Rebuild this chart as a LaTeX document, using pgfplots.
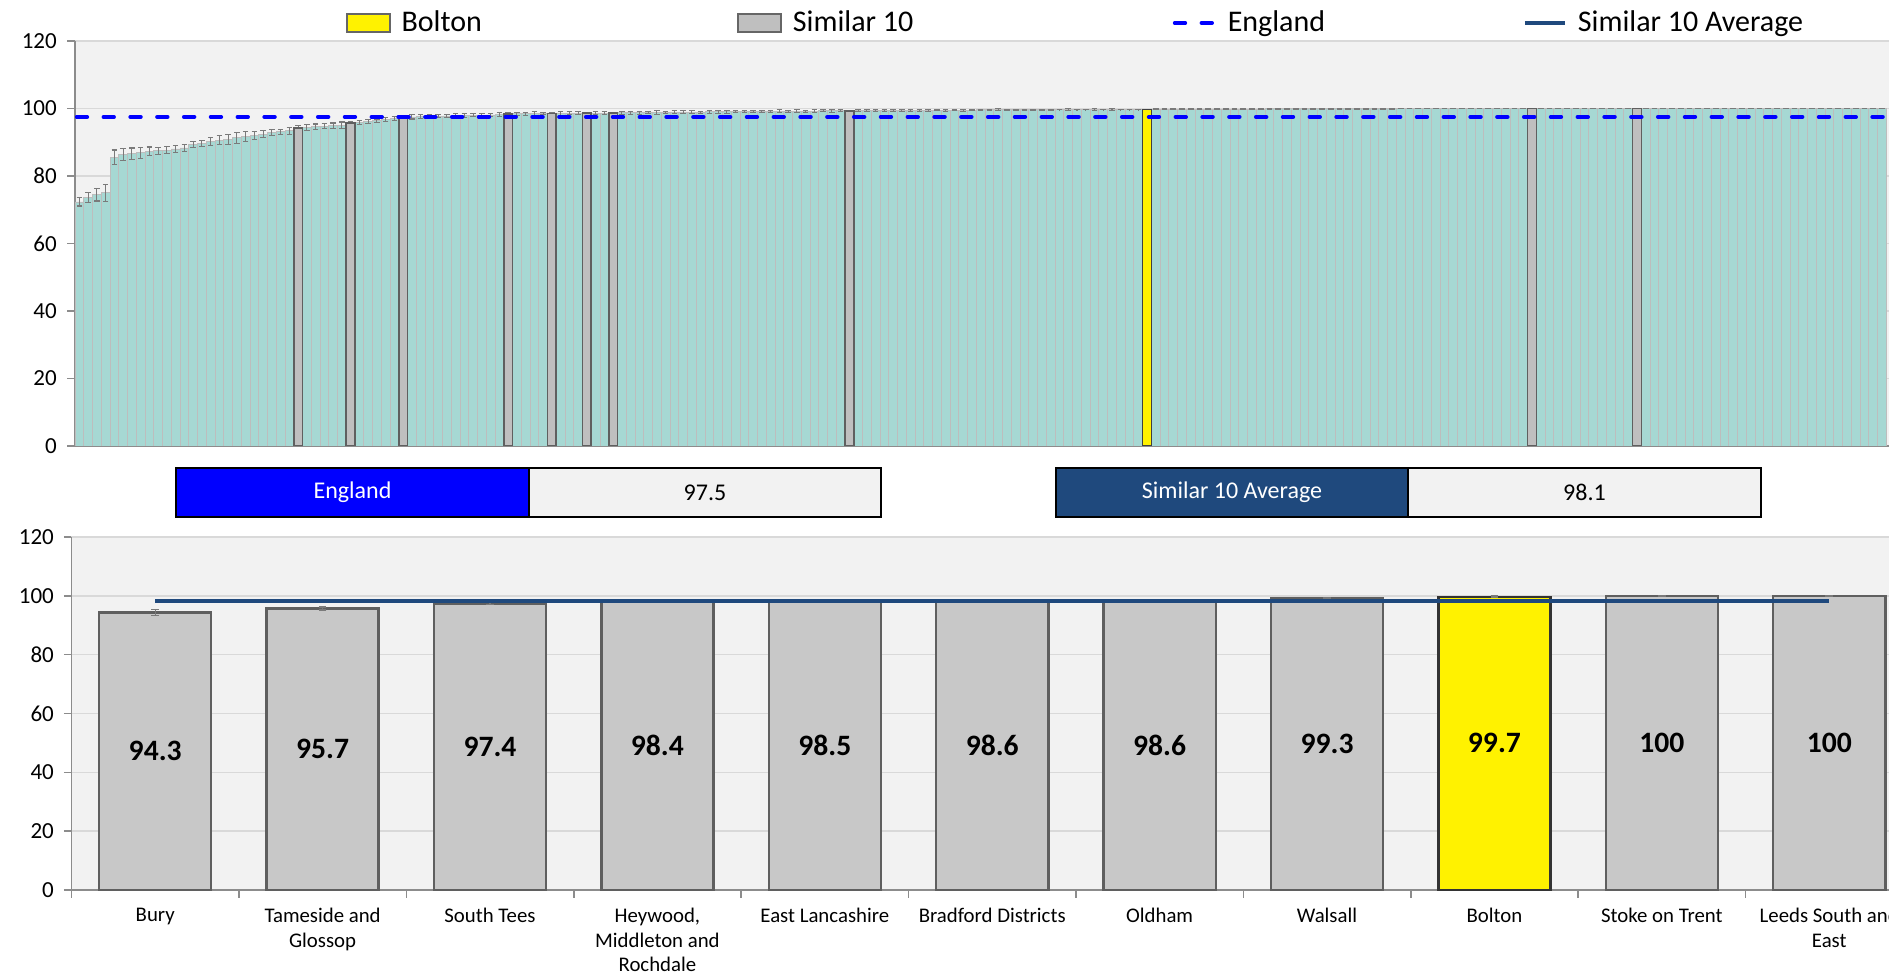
\documentclass[border=0pt]{standalone}
\usepackage{pgfplots}
\pgfplotsset{compat=1.18}
\usepackage{pgfplotstable}
\usepackage{fontspec}
\setmainfont{Carlito}

\definecolor{tealc}{HTML}{A6D8D3}
\definecolor{edgec}{HTML}{BDBDBD}
\definecolor{grayfill}{HTML}{BFBFBF}
\definecolor{graydraw}{HTML}{5F5F5F}
\definecolor{bgrayfill}{HTML}{C8C8C8}
\definecolor{ydraw}{HTML}{404040}
\definecolor{bgc}{HTML}{F2F2F2}
\definecolor{gridc}{HTML}{D9D9D9}
\definecolor{axisgray}{HTML}{8C8C8C}
\definecolor{errc}{HTML}{7A7A7A}
\definecolor{engblue}{HTML}{0000FF}
\definecolor{navy}{HTML}{1F497D}

\pgfplotsset{
  boxleg/.style={legend image code/.code={\draw[##1] (0pt,-4.4pt) rectangle (21.5pt,4.4pt);}},
  lineleg/.style={legend image code/.code={\draw[##1] (1pt,0pt) -- (21pt,0pt);}},
}

\pgfplotstableread{
x y e
0 72.3 1.2
1 73.6 1.5
2 74.4 1.8
3 75.0 2.5
4 85.6 2.1
5 86.3 1.8
6 86.6 1.7
7 86.9 1.6
8 87.3 1.3
9 87.5 1.0
10 87.7 1.1
11 88.0 1.0
12 88.3 1.1
13 89.3 0.8
14 89.6 0.8
15 90.2 1.1
16 90.6 1.3
17 90.9 1.5
18 91.3 1.6
19 91.6 1.5
20 92.0 1.3
21 92.4 1.1
22 92.9 1.0
23 93.1 0.8
24 93.4 1.0
25 94.3 0.7
26 94.4 0.9
27 94.6 0.8
28 94.8 0.7
29 94.9 0.8
30 95.0 1.0
31 95.7 0.4
32 95.8 0.6
33 96.1 0.6
34 96.4 0.5
35 96.7 0.5
36 97.0 0.5
37 97.4 0.3
38 97.5 0.6
39 97.6 0.5
40 97.6 0.6
41 97.7 0.5
42 97.8 0.5
43 97.8 0.6
44 97.9 0.5
45 98.0 0.5
46 98.0 0.6
47 98.1 0.5
48 98.2 0.5
49 98.4 0.3
50 98.4 0.5
51 98.4 0.4
52 98.5 0.5
53 98.5 0.4
54 98.5 0.3
55 98.5 0.5
56 98.6 0.4
57 98.6 0.5
58 98.6 0.3
59 98.6 0.4
60 98.6 0.5
61 98.6 0.3
62 98.7 0.4
63 98.7 0.5
64 98.7 0.4
65 98.8 0.4
66 98.8 0.5
67 98.8 0.4
68 98.9 0.4
69 98.9 0.5
70 98.9 0.4
71 98.9 0.3
72 99.0 0.4
73 99.0 0.5
74 99.0 0.4
75 99.0 0.3
76 99.1 0.4
77 99.1 0.4
78 99.1 0.3
79 99.1 0.4
80 99.2 0.4
81 99.2 0.3
82 99.2 0.4
83 99.2 0.3
84 99.2 0.4
85 99.3 0.3
86 99.3 0.4
87 99.3 0.3
88 99.3 0.2
89 99.3 0.3
90 99.3 0.3
91 99.4 0.2
92 99.4 0.3
93 99.4 0.3
94 99.4 0.2
95 99.4 0.3
96 99.4 0.2
97 99.5 0.3
98 99.5 0.2
99 99.5 0.3
100 99.5 0.2
101 99.5 0.3
102 99.5 0.2
103 99.6 0.2
104 99.6 0.2
105 99.6 0.3
106 99.6 0.2
107 99.6 0.2
108 99.6 0.2
109 99.6 0.1
110 99.6 0.1
111 99.6 0.2
112 99.7 0.1
113 99.7 0.2
114 99.7 0.1
115 99.7 0.1
116 99.7 0.2
117 99.7 0.1
118 99.7 0.2
119 99.7 0.1
120 99.7 0.1
121 99.7 0.1
122 99.7 0.1
123 99.8 0.1
124 99.8 0.1
125 99.8 0.1
126 99.8 0.1
127 99.8 0.1
128 99.8 0.1
129 99.8 0.1
130 99.8 0.1
131 99.8 0.1
132 99.8 0.1
133 99.8 0.1
134 99.8 0.1
135 99.8 0.1
136 99.9 0.1
137 99.9 0.1
138 99.9 0.1
139 99.9 0.1
140 99.9 0.1
141 99.9 0.1
142 99.9 0.1
143 99.9 0.1
144 99.9 0.1
145 99.9 0.1
146 99.9 0.1
147 99.9 0.1
148 99.9 0.1
149 99.9 0.1
150 99.9 0.1
151 100 0.1
152 100 0.1
153 100 0.1
154 100 0.1
155 100 0.1
156 100 0.1
157 100 0.1
158 100 0.1
159 100 0.1
160 100 0.1
161 100 0.1
162 100 0.1
163 100 0.1
164 100 0.1
165 100 0.1
166 100 0.1
167 100 0.1
168 100 0.1
169 100 0.1
170 100 0.1
171 100 0.1
172 100 0.1
173 100 0.1
174 100 0.1
175 100 0.1
176 100 0.1
177 100 0.1
178 100 0.1
179 100 0.1
180 100 0.1
181 100 0.1
182 100 0.1
183 100 0.1
184 100 0.1
185 100 0.1
186 100 0.1
187 100 0.1
188 100 0.1
189 100 0.1
190 100 0.1
191 100 0.1
192 100 0.1
193 100 0.1
194 100 0.1
195 100 0.1
196 100 0.1
197 100 0.1
198 100 0.1
199 100 0.1
200 100 0.1
201 100 0.1
202 100 0.1
203 100 0.1
204 100 0.1
205 100 0.1
206 100 0.1
}\alldata

\pgfplotstableread{
x y
25 94.3
31 95.7
37 97.4
49 98.4
54 98.5
58 98.6
61 98.6
88 99.3
166 100
178 100
}\simdata

\pgfplotstableread{
x v e
0 94.3 1.0
1 95.7 0.5
2 97.4 0.3
3 98.4 0.2
4 98.5 0.2
5 98.6 0.2
6 98.6 0.2
7 99.3 0.2
8 99.7 0.2
9 100 0.1
10 100 0.1
}\bottomdata

\begin{document}
\begin{tikzpicture}
\useasboundingbox (0,0) rectangle (944.5pt,-486pt);

% ---------- top panel ----------
\begin{axis}[
  at={(37.5pt,-223pt)}, anchor=south west,
  scale only axis, width=907pt, height=202.5pt,
  xmin=-0.5, xmax=206.8, ymin=0, ymax=120,
  ytick={0,20,...,120}, xtick=\empty,
  axis x line*=bottom, axis y line*=left,
  x axis line style={-, draw=axisgray, line width=0.8pt},
  y axis line style={-, draw=axisgray, line width=0.8pt},
  axis background/.style={fill=bgc},
  ymajorgrids, grid style={gridc, line width=0.8pt},
  tick align=outside, major tick length=3.8pt,
  tick style={axisgray, line width=0.8pt},
  yticklabel style={font=\fontsize{11.5}{13}\selectfont, xshift=-1.8pt},
  /pgf/number format/assume math mode=true,
  legend columns=4,
  legend style={at={(0.1494,1.0444)}, anchor=west, draw=none, fill=none,
    inner sep=0pt, outer sep=0pt, font=\fontsize{15}{18}\selectfont,
    /tikz/every even column/.append style={column sep=96.9pt},
    /tikz/every odd column/.append style={column sep=3.5pt}},
]
\addplot[ybar, bar width=1, bar shift=0pt, fill=tealc, draw=edgec, line width=0.4pt, forget plot,
  error bars/.cd, y dir=both, y explicit,
  error bar style={errc, line width=0.55pt},
  error mark options={rotate=90, errc, mark size=1.4pt, line width=0.55pt}]
  table[x=x, y=y, y error=e] {\alldata};
\addplot[ybar, bar width=1, bar shift=0pt, fill=grayfill, draw=graydraw, line width=0.8pt, forget plot]
  table[x=x, y=y] {\simdata};
\addplot[ybar, bar width=1, bar shift=0pt, fill=yellow, draw=ydraw, line width=0.8pt, forget plot]
  coordinates {(122,99.7)};
\addplot[engblue, line width=2pt, line cap=round, dash pattern=on 5.2pt off 8.2pt, forget plot]
  coordinates {(-0.3,97.5) (206.8,97.5)};

\addlegendimage{boxleg, fill=yellow, draw=black!60, line width=0.8pt}
\addlegendentry{Bolton\rule{28.8pt}{0pt}}
\addlegendimage{boxleg, fill=grayfill, draw=black!60, line width=0.8pt}
\addlegendentry{Similar 10\rule{30.8pt}{0pt}}
\addlegendimage{lineleg, engblue, line width=2pt, line cap=round, dash pattern=on 5.2pt off 8.2pt}
\addlegendentry{England}
\addlegendimage{lineleg, navy, line width=2pt}
\addlegendentry{Similar 10 Average}
\end{axis}

% ---------- summary boxes ----------
\draw[fill=engblue, line width=1.3pt] (88pt,-234pt) rectangle (264.5pt,-258.5pt);
\draw[fill=bgc, line width=1.3pt] (264.5pt,-234pt) rectangle (440.5pt,-258.5pt);
\node[white, font=\fontsize{12}{14}\selectfont] at (176.25pt,-246.25pt) {England};
\node[font=\fontsize{12}{14}\selectfont] at (352.5pt,-246.25pt) {97.5};
\draw[fill=navy, line width=1.3pt] (528pt,-234pt) rectangle (704pt,-258.5pt);
\draw[fill=bgc, line width=1.3pt] (704pt,-234pt) rectangle (880.5pt,-258.5pt);
\node[white, font=\fontsize{12}{14}\selectfont] at (616pt,-246.25pt) {Similar 10 Average};
\node[font=\fontsize{12}{14}\selectfont] at (792.25pt,-246.25pt) {98.1};

% ---------- bottom panel ----------
\begin{axis}[
  at={(35.75pt,-445pt)}, anchor=south west,
  scale only axis, width=908.75pt, height=176.5pt,
  xmin=-0.5, xmax=10.357, ymin=0, ymax=120,
  ytick={0,20,...,120},
  xtick={-0.5,0.5,...,9.5}, xticklabels={},
  extra x ticks={0,1,2,3,4,5,6,7,8,9,10},
  extra x tick labels={Bury, Tameside and\\Glossop, South Tees, {Heywood,\\Middleton and\\Rochdale}, East Lancashire, Bradford Districts, Oldham, Walsall, Bolton, Stoke on Trent, Leeds South and\\East},
  extra x tick style={major tick length=0pt},
  xticklabel style={font=\fontsize{10.4}{12.3}\selectfont, align=center, anchor=north, yshift=-5.6pt},
  axis x line*=bottom, axis y line*=left,
  x axis line style={-, draw=axisgray, line width=0.8pt},
  y axis line style={-, draw=axisgray, line width=0.8pt},
  axis background/.style={fill=bgc},
  ymajorgrids, grid style={gridc, line width=0.8pt},
  tick align=outside, major tick length=3.8pt,
  tick style={axisgray, line width=0.8pt},
  yticklabel style={font=\fontsize{11.5}{13}\selectfont, xshift=-1.5pt},
  /pgf/number format/assume math mode=true,
]
\addplot[ybar, bar width=0.67, bar shift=0pt, fill=bgrayfill, draw=graydraw, line width=1.2pt,
  error bars/.cd, y dir=both, y explicit,
  error bar style={errc, line width=0.7pt},
  error mark options={rotate=90, errc, mark size=1.9pt, line width=0.7pt}]
  table[x=x, y=v, y error=e] {\bottomdata};
\addplot[ybar, bar width=0.67, bar shift=0pt, fill=yellow, draw=black!80, line width=1.2pt,
  error bars/.cd, y dir=both, y explicit,
  error bar style={errc, line width=0.7pt},
  error mark options={rotate=90, errc, mark size=1.9pt, line width=0.7pt}]
  coordinates {(8,99.7) +- (0,0.2)};
\addplot[navy, line width=2pt] coordinates {(0,98.1) (10,98.1)};
\addplot[draw=none, mark=none, nodes near coords, point meta=explicit symbolic,
  every node near coord/.append style={font=\bfseries\fontsize{14.8}{16}\selectfont, anchor=center, text=black}]
  table[x=x, y expr=\thisrow{v}/2, meta=v] {\bottomdata};
\end{axis}
\end{tikzpicture}
\end{document}
